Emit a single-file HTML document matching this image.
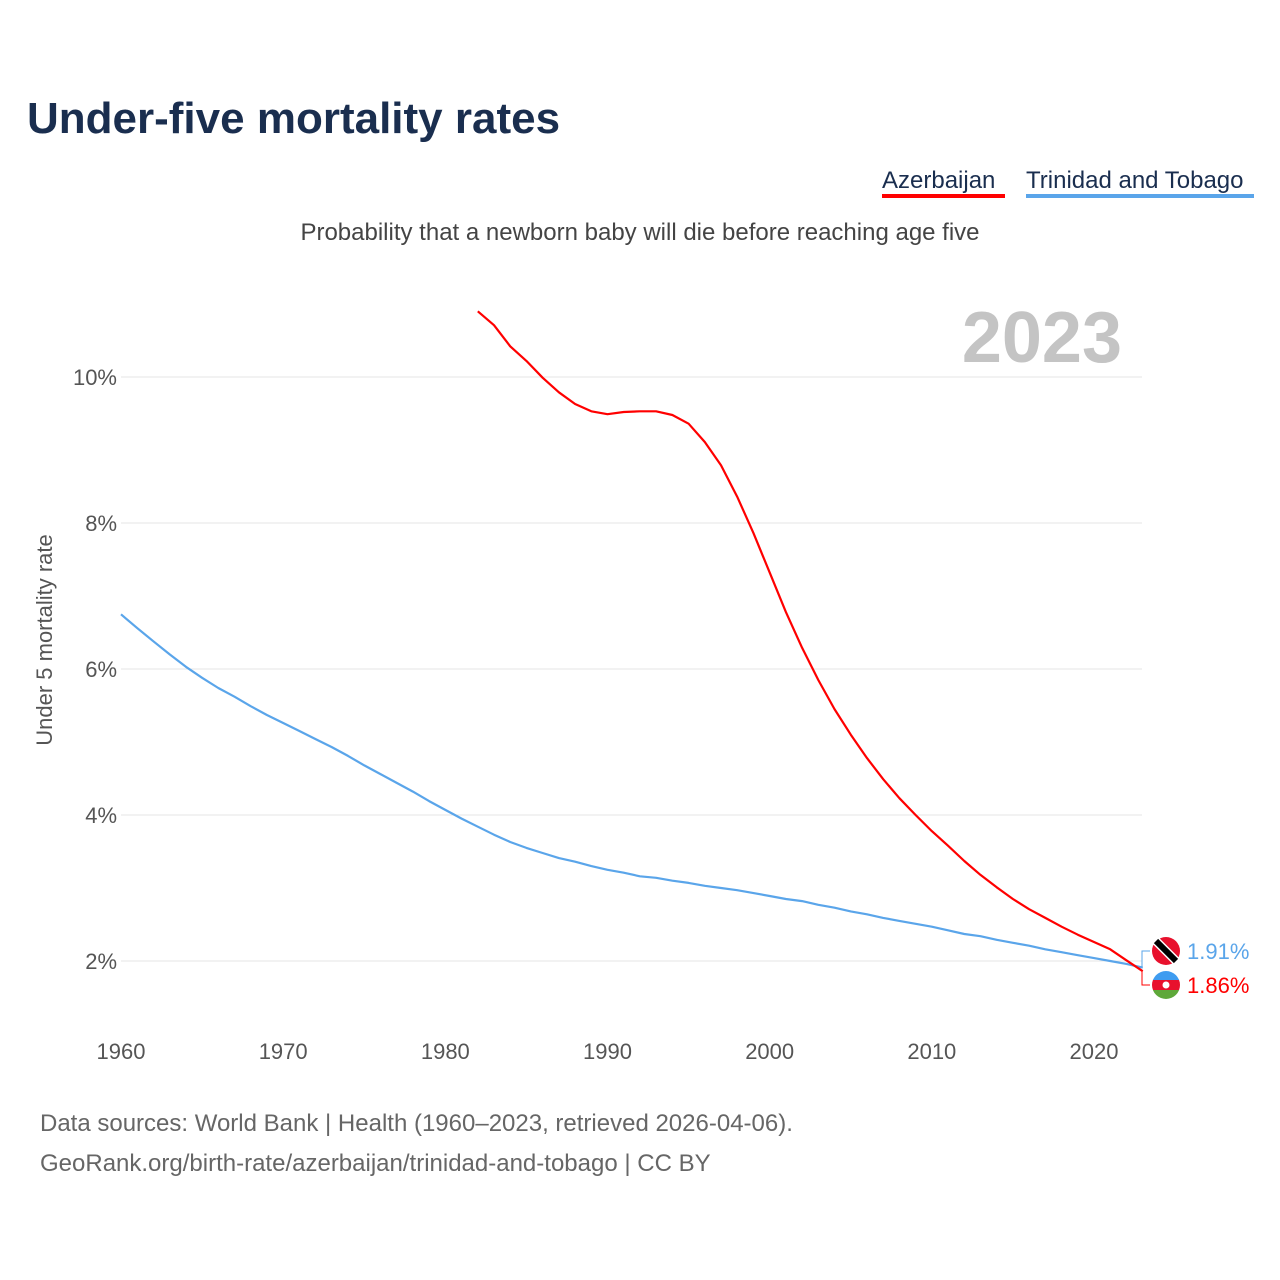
<!DOCTYPE html>
<html><head><meta charset="utf-8"><style>
body{margin:0;background:#fff;font-family:"Liberation Sans",sans-serif}
svg{display:block}
</style></head><body>
<svg width="1280" height="1280" viewBox="0 0 1280 1280" xmlns="http://www.w3.org/2000/svg">
<text x="27" y="133" font-size="44" font-weight="bold" fill="#1a2e4f">Under-five mortality rates</text>
<g><text x="882" y="188" font-size="24" fill="#1a2e4f">Azerbaijan</text><rect x="882" y="194" width="123" height="4" fill="#ff0000"/></g>
<g><text x="1026" y="188" font-size="24" fill="#1a2e4f">Trinidad and Tobago</text><rect x="1026" y="194" width="228" height="4" fill="#5aa5ea"/></g>
<text x="640" y="240" font-size="24" fill="#444" text-anchor="middle">Probability that a newborn baby will die before reaching age five</text>
<text x="1122" y="362" font-size="72" font-weight="bold" fill="#c4c4c4" text-anchor="end">2023</text>
<text transform="translate(52,640) rotate(-90)" font-size="22" fill="#555" text-anchor="middle">Under 5 mortality rate</text>
<g id="grid"></g><g id="xt"></g><g id="lines"></g><g id="ends"></g>
<text x="40" y="1131" font-size="24" fill="#666">Data sources: World Bank | Health (1960–2023, retrieved 2026-04-06).</text>
<text x="40" y="1171" font-size="24" fill="#666">GeoRank.org/birth-rate/azerbaijan/trinidad-and-tobago | CC BY</text>
</svg>
<script>
const yTicks=[2,4,6,8,10];
const xTicks=[1960,1970,1980,1990,2000,2010,2020];
const azStart=1982;
const azValues=[10.90,10.71,10.42,10.22,9.99,9.79,9.63,9.53,9.49,9.52,9.53,9.53,9.48,9.36,9.11,8.79,8.36,7.86,7.32,6.78,6.29,5.85,5.45,5.10,4.78,4.49,4.23,4.00,3.78,3.58,3.37,3.18,3.01,2.85,2.71,2.59,2.47,2.36,2.26,2.16,2.01,1.86];
const ttStart=1960;
const ttValues=[6.75,6.56,6.38,6.20,6.03,5.88,5.74,5.62,5.49,5.37,5.26,5.15,5.04,4.93,4.81,4.68,4.56,4.44,4.32,4.19,4.07,3.95,3.84,3.73,3.63,3.55,3.48,3.41,3.36,3.30,3.25,3.21,3.16,3.14,3.10,3.07,3.03,3.00,2.97,2.93,2.89,2.85,2.82,2.77,2.73,2.68,2.64,2.59,2.55,2.51,2.47,2.42,2.37,2.34,2.29,2.25,2.21,2.16,2.12,2.08,2.04,2.00,1.96,1.91];
const NS="http://www.w3.org/2000/svg";
const X=y=>121+(y-1960)*(1094-121)/60;
const Y=v=>961-(v-2)*73;
function mk(t,a,p){const e=document.createElementNS(NS,t);for(const k in a)e.setAttribute(k,a[k]);p.appendChild(e);return e;}
const grid=document.getElementById('grid');
yTicks.forEach(v=>{
 const l=mk('line',{x1:121,x2:1142,y1:Y(v),y2:Y(v),stroke:'#e6e6e6','stroke-width':1},grid);
 
 
 const t=mk('text',{x:117,y:Y(v)+8,'font-size':22,fill:'#555','text-anchor':'end'},grid);t.textContent=v+'%';
 
 
});
const xt=document.getElementById('xt');
xTicks.forEach(v=>{
 const t=mk('text',{x:X(v),y:1059,'font-size':22,fill:'#555','text-anchor':'middle'},xt);t.textContent=v;
 
 
});
const lines=document.getElementById('lines');
function series(start,vals,col,name){
 const d=vals.map((v,i)=>(i?'L':'M')+X(start+i).toFixed(1)+','+Y(v).toFixed(1)).join('');
 const p=mk('path',{d:d,fill:'none',stroke:col,'stroke-width':2.2,'stroke-linejoin':'round'},lines);
 
 
}
series(ttStart,ttValues,'#5aa5ea','line-trinidad');
series(azStart,azValues,'#ff0000','line-azerbaijan');
const ends=document.getElementById('ends');
const tx=X(2023),tty=Y(ttValues[ttValues.length-1]),azy=Y(azValues[azValues.length-1]);
mk('path',{d:`M${tx},${tty}L1142,${tty}L1142,951L1150,951`,fill:'none',stroke:'#5aa5ea','stroke-width':1},ends);
mk('path',{d:`M${tx},${azy}L1142,${azy}L1142,985L1150,985`,fill:'none',stroke:'#ff0000','stroke-width':1},ends);
const tt=mk('g',{},ends);


mk('circle',{cx:1166,cy:951,r:14,fill:'#e8112d'},tt);
mk('line',{x1:1156,y1:941,x2:1176,y2:961,stroke:'#fff','stroke-width':9},tt);
mk('line',{x1:1156,y1:941,x2:1176,y2:961,stroke:'#000','stroke-width':6},tt);
const az=mk('g',{},ends);


const cp=mk('clipPath',{id:'c'},az);
mk('circle',{cx:1166,cy:985,r:14},cp);
const g=mk('g',{'clip-path':'url(#c)'},az);
mk('rect',{x:1150,y:970,width:32,height:10,fill:'#3f9cf0'},g);
mk('rect',{x:1150,y:980,width:32,height:10,fill:'#e8112d'},g);
mk('rect',{x:1150,y:990,width:32,height:10,fill:'#5ea83a'},g);
mk('circle',{cx:1166,cy:985,r:3.5,fill:'#fff'},g);
const l1=mk('text',{x:1187,y:959,'font-size':22,fill:'#5aa5ea'},ends);l1.textContent=ttValues[ttValues.length-1].toFixed(2)+'%';


const l2=mk('text',{x:1187,y:993,'font-size':22,fill:'#ff0000'},ends);l2.textContent=azValues[azValues.length-1].toFixed(2)+'%';


</script>
</body></html>
